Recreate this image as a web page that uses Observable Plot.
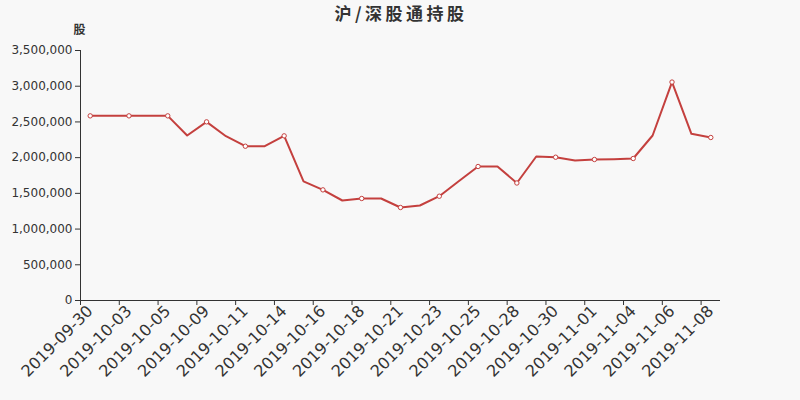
<!DOCTYPE html>
<html>
<head>
<meta charset="utf-8">
<script src="https://cdn.jsdelivr.net/npm/d3@7"></script>
<script src="https://cdn.jsdelivr.net/npm/@observablehq/plot@0.6"></script>
<style>
  html, body { margin: 0; padding: 0; background: #f8f8f8; }
  #wrap { width: 800px; height: 400px; position: relative; overflow: hidden; }
  #title { height: 16px; line-height: 26px; overflow: visible; text-align: center; font-family: "Noto Sans CJK SC", "DejaVu Sans", sans-serif; font-size: 17px; font-weight: bold; color: #333; letter-spacing: 3.5px; padding-left: 2px; position: relative; z-index: 1; }
</style>
</head>
<body>
<div id="wrap">
  <div id="title">沪/深股通持股</div>
  <div id="chart"></div>
</div>
<script>
const dates = [
  "2019-09-30","2019-10-02","2019-10-03","2019-10-04","2019-10-05","2019-10-08",
  "2019-10-09","2019-10-10","2019-10-11","2019-10-12","2019-10-14","2019-10-15",
  "2019-10-16","2019-10-17","2019-10-18","2019-10-19","2019-10-21","2019-10-22",
  "2019-10-23","2019-10-24","2019-10-25","2019-10-26","2019-10-28","2019-10-29",
  "2019-10-30","2019-10-31","2019-11-01","2019-11-02","2019-11-04","2019-11-05",
  "2019-11-06","2019-11-07","2019-11-08"
];
const holdings = [
  2585000, 2585000, 2585000, 2585000, 2585000, 2310000,
  2501000, 2300000, 2160000, 2160000, 2305000, 1668000,
  1549000, 1400000, 1428000, 1428000, 1302000, 1330000,
  1460000, 1670000, 1876000, 1876000, 1645000, 2016000,
  2006000, 1960000, 1974000, 1978000, 1988000, 2310000,
  3058000, 2333000, 2282000
];
const yTicks = [0, 500000, 1000000, 1500000, 2000000, 2500000, 3000000, 3500000];
const yUnit = "股";

const data = dates.map((d, i) => ({i, date: d, value: holdings[i]}));
const labelIdx = dates.map((d, i) => i).filter(i => i % 2 === 0);
const boundaryTicks = labelIdx.map(i => i - 0.5);
const red = "#c4403e";
const ink = "#333";

const chart = Plot.plot({
  width: 800,
  height: 384,
  marginLeft: 80,
  marginRight: 80,
  marginTop: 34,
  marginBottom: 100,
  style: {background: "transparent", fontFamily: "'DejaVu Sans', 'Noto Sans CJK SC', sans-serif", color: ink},
  x: {type: "linear", domain: [-0.5, dates.length - 0.5]},
  y: {domain: [0, 3500000]},
  marks: [
    Plot.axisY(yTicks, {tickFormat: d3.format(","), tickSize: 5, tickPadding: 3, fontSize: 12, stroke: ink, fill: ink, label: null}),
    Plot.ruleX([-0.5], {stroke: ink, strokeWidth: 1}),
    Plot.ruleY([0], {stroke: ink, strokeWidth: 1}),
    Plot.axisX(boundaryTicks, {tickSize: 5, tickFormat: () => "", stroke: ink, label: null}),
    Plot.axisX(labelIdx, {tickSize: 0, tickPadding: 8, tickRotate: -45, fontSize: 16, fill: ink, tickFormat: i => dates[i], label: null}),
    Plot.text([yUnit], {frameAnchor: "top-left", dx: -1, dy: -25, textAnchor: "middle", fontSize: 12, fontWeight: "bold", fill: ink}),
    Plot.line(data, {x: "i", y: "value", stroke: red, strokeWidth: 2}),
    Plot.dot(data.filter(d => d.i % 2 === 0), {x: "i", y: "value", r: 2.2, fill: "white", stroke: red, strokeWidth: 1})
  ]
});
document.getElementById("chart").appendChild(chart);
</script>
</body>
</html>
